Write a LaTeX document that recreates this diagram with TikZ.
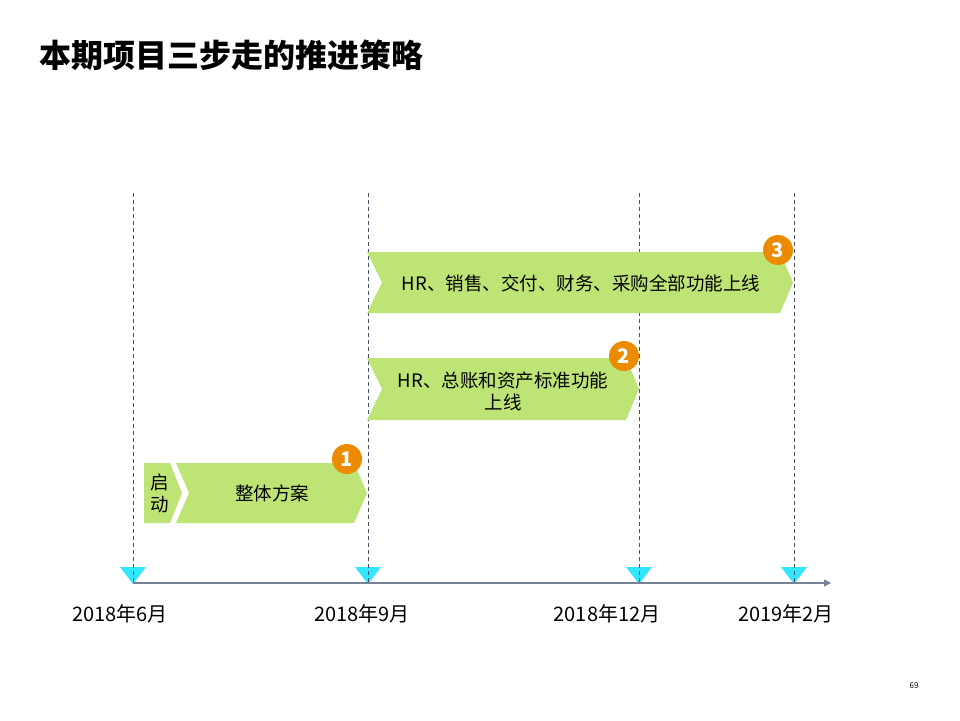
\documentclass[tikz,border=0pt]{standalone}
\usepackage{fontspec}
\setmainfont{Noto Sans CJK SC}
\usetikzlibrary{arrows.meta}
\usetikzlibrary{positioning}
\definecolor{barGreen}{RGB}{190,228,117}
\definecolor{stepOrange}{RGB}{237,139,0}
\definecolor{markCyan}{RGB}{51,230,255}
\definecolor{guideGray}{RGB}{68,84,106}
\definecolor{axisGray}{RGB}{118,131,151}

\tikzset{
  bar/.style={fill=barGreen},
  stepnum/.style={circle, fill=stepOrange, text=white, inner sep=0pt,
    minimum size=30pt, font=\fontsize{20}{20}\selectfont\bfseries},
  bartext/.style={align=center, inner sep=0pt, font=\fontsize{18.5}{22}\selectfont},
  datelabel/.style={inner sep=0pt, font=\fontsize{20}{20}\selectfont},
  guide/.style={guideGray, dashed, dash pattern=on 4pt off 3pt, line width=0.8pt},
  axisline/.style={axisGray, line width=1.5pt, -{Triangle[length=7pt,width=7pt]}},
}

\begin{document}
\begin{tikzpicture}[x=1pt, y=-1pt]
  \useasboundingbox (0,0) rectangle (960,720);

  % title
  \node[anchor=west, inner sep=0pt, font=\fontsize{32}{32}\selectfont\bfseries]
    (title) at (39,55) {本期项目三步走的推进策略};

  % milestones: triangle marks and dashed guides
  \foreach \x/\m in {133/jun, 368/sep, 639/dec, 794/feb} {
    \coordinate (top\m) at (\x,193);
    \coordinate (base\m) at (\x,583);
    \fill[markCyan] (\x-13,567) -- (\x+13,567) -- (\x,584) -- cycle;
    \draw[guide] (top\m) -- (base\m);
  }

  % time axis
  \coordinate (axisend) at (831,583);
  \draw[axisline] (basejun) -- (axisend);

  % phase bars
  \fill[bar] (144,463) -- (170,463) -- (182,493) -- (170,523) -- (144,523) -- cycle;
  \fill[bar] (176,463) -- (354,463) -- (367,493) -- (354,523) -- (176,523) -- (189,493) -- cycle;
  \fill[bar] (367,358) -- (626,358) -- (639,389) -- (626,420) -- (367,420) -- (382,389) -- cycle;
  \fill[bar] (367,252) -- (780,252) -- (793,282.5) -- (780,313) -- (367,313) -- (382,282.5) -- cycle;

  \node[bartext] (kickoff) at (160,493) {启\\动};
  \node[bartext] (plan) at (272,493) {整体方案};
  \node[bartext] (phase2) at (503,391) {HR、总账和资产标准功能\\上线};
  \node[bartext] (phase3) at (581,283) {HR、销售、交付、财务、采购全部功能上线};

  % step numbers
  \node[stepnum] (num1) at (347,459) {1};
  \node[stepnum] (num2) at (624,356) {2};
  \node[stepnum] (num3) at (778,250) {3};

  % dates
  \node[datelabel] (dateJun) at (120,614) {2018年6月};
  \node[datelabel] (dateSep) at (362,614) {2018年9月};
  \node[datelabel] (dateDec) at (607,614) {2018年12月};
  \node[datelabel] (dateFeb) at (786,614) {2019年2月};

  % page number
  \node[inner sep=0pt, font=\fontsize{8}{8}\selectfont] (page) at (914,686) {69};
\end{tikzpicture}
\end{document}
